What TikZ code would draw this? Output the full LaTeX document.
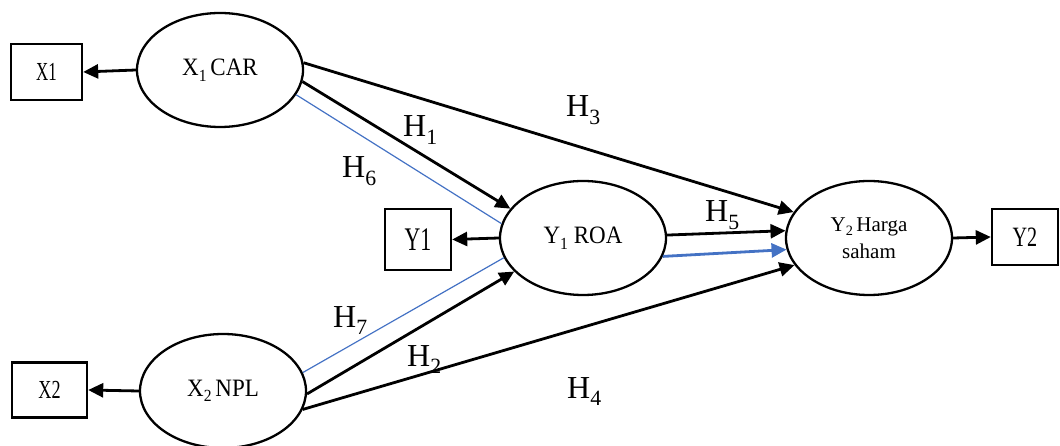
\documentclass[tikz,border=0pt]{standalone}
\usepackage{fontspec}
\setmainfont{Liberation Serif}
\usepackage{graphicx}
\usetikzlibrary{arrows.meta,shapes.geometric}
\newcommand\lowidx[1]{\raisebox{-0.22em}{\scalebox{0.68}{#1}}}
\definecolor{lineblue}{RGB}{68,114,196}
\tikzset{
  ell/.style={draw, line width=2.3pt, ellipse, minimum width=166pt, minimum height=114pt, inner sep=0pt, align=center, font=\fontsize{25}{27}\selectfont},
  obs/.style={draw, line width=2.4pt, rectangle, inner sep=0pt, font=\fontsize{26}{28}\selectfont},
  arr/.style={line width=2.8pt, -{Triangle[length=15pt,width=14pt]}},
  thinblue/.style={draw=lineblue, line width=1.2pt},
  bluearr/.style={draw=lineblue, line width=2.8pt, -{Triangle[length=15pt,width=14pt]}, lineblue},
  hlab/.style={anchor=base west, inner sep=0pt, font=\fontsize{32}{34}\selectfont}
}
\begin{document}
\begin{tikzpicture}[x=1pt,y=-1pt]
\useasboundingbox (0,0) rectangle (1060,446);
% latent nodes
\node[ell] (A) at (220,70) {\scalebox{0.92}[1]{X\lowidx{1}\,CAR}};
\node[ell] (B) at (223,391) {\scalebox{0.92}[1]{X\lowidx{2}\,NPL}};
\node[ell] (C) at (583,238) {\scalebox{0.92}[1]{Y\lowidx{1} ROA}};
\node[ell, font=\fontsize{21}{27}\selectfont] (D) at (869,238) {Y\lowidx{2}\,Harga\\saham};
% indicator boxes
\node[obs, minimum width=71pt, minimum height=56pt] (X1) at (46.5,72) {\scalebox{0.65}[1]{X1}};
\node[obs, minimum width=75pt, minimum height=55pt] (X2) at (49.5,390) {\scalebox{0.7}[1]{X2}};
\node[obs, minimum width=66pt, minimum height=61pt, font=\fontsize{33}{35}\selectfont] (Y1) at (418,239.5) {\scalebox{0.66}[1]{Y1}};
\node[obs, minimum width=66pt, minimum height=56pt, font=\fontsize{28}{30}\selectfont] (Y2) at (1025,237) {\scalebox{0.72}[1]{Y2}};
% measurement arrows
\draw[arr] (A.west) -- (X1.east);
\draw[arr] (B.west) -- (X2.east);
\draw[arr] (C.west) -- (Y1.east);
\draw[arr] (D.east) -- (Y2.west);
% structural paths
\draw[arr] (A.-8) -- (C.158);
\draw[arr] (A.5) -- (D.161);
\draw[thinblue] (A.-18) -- (C.170);
\draw[arr] (C.2) -- (D.175);
\draw[bluearr] (C.-13) -- (D.188);
\draw[thinblue] (B.13) -- (C.194);
\draw[arr] (B.-2) -- (C.206);
\draw[arr] (B.-13) -- (D.200);
% labels
\node[hlab] (h1) at (403,137) {H\lowidx{1}};
\node[hlab] (h6) at (342,178) {H\lowidx{6}};
\node[hlab] (h3) at (566,117) {H\lowidx{3}};
\node[hlab] (h5) at (705,222) {H\lowidx{5}};
\node[hlab] (h7) at (333,327) {H\lowidx{7}};
\node[hlab] (h2) at (407,366) {H\lowidx{2}};
\node[hlab] (h4) at (567,398) {H\lowidx{4}};
\end{tikzpicture}
\end{document}
